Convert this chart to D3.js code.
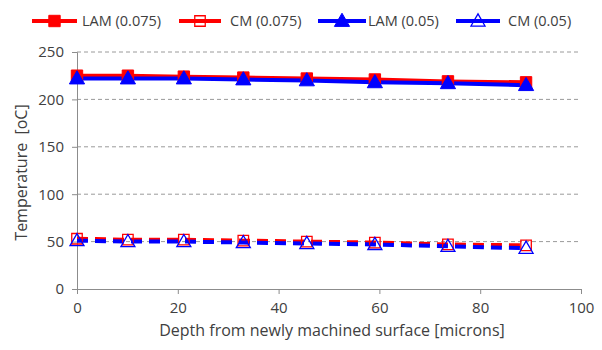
<!DOCTYPE html>
<html><head><meta charset="utf-8">
<script src="https://cdn.jsdelivr.net/npm/d3@7"></script>
<style>body{margin:0;background:#fff}svg{display:block}text{font-family:"Open Sans",Lato,sans-serif;fill:#404040;white-space:pre}</style>
</head><body><svg id="c" width="602" height="350"></svg>
<script>
const depth = [0, 10.1, 21.2, 33, 45.6, 59.1, 73.6, 89.1];
const lam075 = [225, 225, 224, 223, 222, 221, 219, 218];
const cm075 = [53, 52, 52, 51, 50, 49, 47, 46];
const lam05 = [222, 222, 222, 221, 220, 218, 217, 215];
const cm05 = [51, 50, 50, 49, 48, 47, 45, 43];
const seriesNames = ["LAM (0.075)", "CM (0.075)", "LAM (0.05)", "CM (0.05)"];
const xTicks = [0, 20, 40, 60, 80, 100];
const yTicks = [0, 50, 100, 150, 200, 250];
const xTitle = "Depth from newly machined surface [microns]";
const yTitle = "Temperature  [oC]";

const series = [
  {name: seriesNames[0], vals: lam075, color: "#ff0000", marker: "square", filled: true, dashed: false},
  {name: seriesNames[1], vals: cm075, color: "#ff0000", marker: "square", filled: false, dashed: true},
  {name: seriesNames[2], vals: lam05, color: "#0000ff", marker: "triangle", filled: true, dashed: false},
  {name: seriesNames[3], vals: cm05, color: "#0000ff", marker: "triangle", filled: false, dashed: true}
];

const svg = d3.select("#c");
const L = 77, R = 581, T = 52, B = 289;
const x = d3.scaleLinear().domain([0, 100]).range([L, R]);
const y = d3.scaleLinear().domain([0, 250]).range([B, T]);

// gridlines
svg.append("g").selectAll("line").data(yTicks.filter(d => d > 0)).join("line")
  .attr("x1", L).attr("x2", R).attr("y1", d => y(d)).attr("y2", d => y(d))
  .attr("stroke", "#9a9a9a").attr("stroke-width", 1).attr("stroke-dasharray", "4,3");

// axes
const xAxis = svg.append("g").attr("transform", `translate(0,${B})`)
  .call(d3.axisBottom(x).tickValues(xTicks).tickSize(5).tickPadding(8));
const yAxis = svg.append("g").attr("transform", `translate(${L},0)`)
  .call(d3.axisLeft(y).tickValues(yTicks).tickSize(5).tickPadding(8));
[xAxis, yAxis].forEach(a => {
  a.select(".domain").attr("stroke", "#8c8c8c");
  a.selectAll(".tick line").attr("stroke", "#8c8c8c");
  a.selectAll("text").attr("font-size", 15).attr("fill", "#404040")
    .style("font-family", '"Open Sans",Lato,sans-serif');
});
xAxis.select(".domain").attr("d", `M${L},0.5H${R + 0.5}V5`);

svg.append("text").attr("x", 332).attr("y", 336).attr("text-anchor", "middle")
  .attr("font-size", 16).text(xTitle);
svg.append("text").attr("transform", `translate(27,${(T + B) / 2 + 2}) rotate(-90)`)
  .attr("text-anchor", "middle").attr("font-size", 16).text(yTitle);

const sq = d3.symbol().type(d3.symbolSquare);
const tri = d3.symbol().type(d3.symbolTriangle);
function marker(g, s, cx, cy) {
  const path = s.marker === "square" ? sq.size(s.filled ? 130 : 110)() : tri.size(s.filled ? 100 : 85)();
  g.append("path").attr("d", path).attr("transform", `translate(${cx},${cy + (s.marker === "triangle" ? 1 : 0)})`)
    .attr("fill", s.filled ? s.color : "none").attr("stroke", s.color)
    .attr("stroke-width", s.filled ? 1 : 1.3);
}

const line = d3.line().x((d, i) => x(depth[i])).y(d => y(d));
const plot = svg.append("g");
series.forEach(s => {
  plot.append("path").datum(s.vals).attr("d", line).attr("fill", "none")
    .attr("stroke", s.color).attr("stroke-width", 4)
    .attr("stroke-dasharray", s.dashed ? "11,7" : null);
});
series.forEach(s => {
  s.vals.forEach((v, i) => marker(plot, s, x(depth[i]), y(v)));
});

// legend
const legX = [[32, 77, 80], [179, 221, 228], [318, 366, 366], [456, 500, 506]];
const ly = 21;
const leg = svg.append("g");
series.forEach((s, i) => {
  const [a, b, t] = legX[i];
  leg.append("line").attr("x1", a).attr("x2", b).attr("y1", ly).attr("y2", ly)
    .attr("stroke", s.color).attr("stroke-width", 4);
  marker(leg, s, (a + b) / 2, ly);
  leg.append("text").attr("x", t + 2).attr("y", ly + 5).attr("font-size", 14.5).text(s.name);
});
</script></body></html>
